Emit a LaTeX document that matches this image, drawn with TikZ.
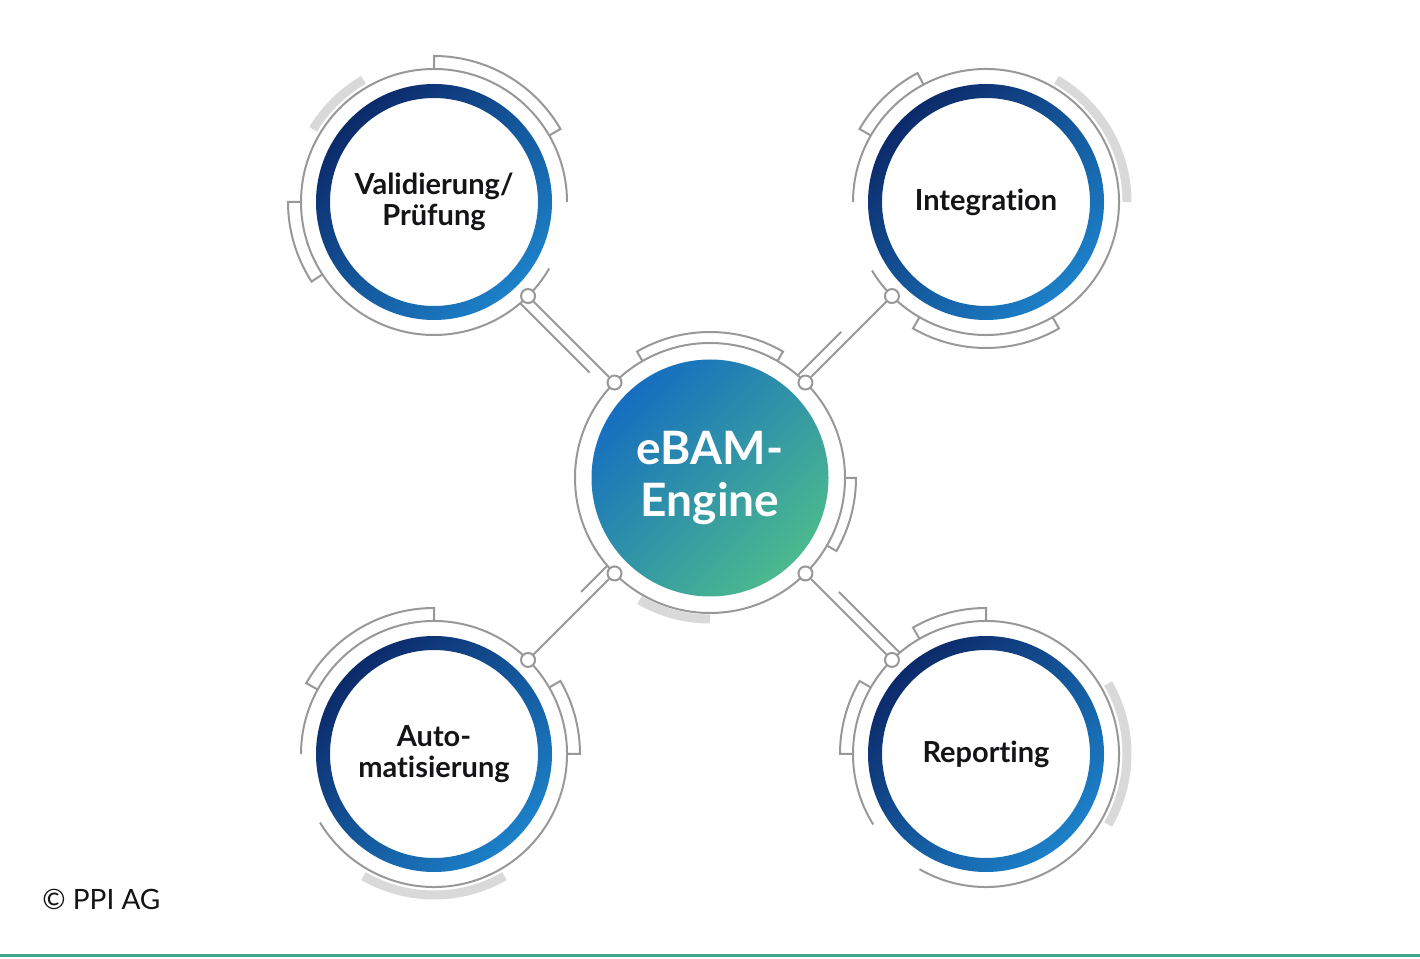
\documentclass[tikz,border=0pt]{standalone}
\usepackage{fontspec}
\setmainfont{Lato}[Ligatures={NoCommon}]
\usetikzlibrary{positioning,calc}

\definecolor{navy}{RGB}{12,42,106}
\definecolor{skyblue}{RGB}{28,128,200}
\definecolor{engblue}{RGB}{22,110,192}
\definecolor{enggreen}{RGB}{76,186,142}
\definecolor{wire}{RGB}{152,152,152}
\definecolor{shadow}{RGB}{217,217,217}
\definecolor{labelink}{RGB}{20,20,22}
\definecolor{footline}{RGB}{62,166,138}

\begin{document}
\begin{tikzpicture}[x=0.5pt, y=0.5pt, node distance=138pt and 138pt,
  topic/.style={circle, minimum size=104pt, inner sep=0pt, align=center, on grid, text=labelink, font=\bfseries\fontsize{14.5}{15.5}\selectfont},
  engine/.style={circle, minimum size=118.5pt, inner sep=0pt, align=center, top color=engblue, bottom color=enggreen, shading angle=45, text=white, font=\bfseries\fontsize{23}{26}\selectfont},
  joint/.style={circle, draw=wire, line width=1pt, fill=white, minimum size=7pt, inner sep=0pt},
  ringline/.style={draw=wire, line width=1pt},
  glow/.style={draw=shadow, line width=4.5pt}]

  \useasboundingbox (0,0) rectangle (1420,959);

  \node[engine] (eng) at (710,481) {eBAM-\\Engine};
  \node[topic, above left=of eng] (val) {Validierung/\\Prüfung};
  \node[topic, above right=of eng] (int) {Integration};
  \node[topic, below left=of eng] (auto) {Auto-\\matisierung};
  \node[topic, below right=of eng] (rep) {Reporting};

  % blue rings
  \foreach \n in {val,int,auto,rep}
    \shade[top color=navy, bottom color=skyblue, shading angle=45, even odd rule] (\n.center) circle[radius=118] circle[radius=104];

  % thin outer rings
  \draw[ringline] (eng.center) circle[radius=135];
  \foreach \n/\a/\b in {val/0/330, int/211/540, auto/211/540, rep/240/572}
    \draw[ringline] ([shift={(\a:133)}]\n.center) arc[start angle=\a, end angle=\b, radius=133];

  % brackets
  \foreach \n/\r/\R/\a/\b in {val/133/146/30/90, val/133/146/180/213, int/133/146/118/150, int/133/146/240/300,
      auto/133/146/90/151, auto/133/146/0/30, rep/133/146/90/120, rep/133/146/150/180,
      eng/135/146/60/120, eng/135/146/-30/0}
    \draw[ringline] ([shift={(\a:\r)}]\n.center) -- ([shift={(\a:\R)}]\n.center)
      arc[start angle=\a, end angle=\b, radius=\R] -- ([shift={(\b:\r)}]\n.center);

  % light arcs
  \foreach \n/\a/\b in {val/120/149, int/0/60, auto/240/300, rep/-30/30, eng/240/270}
    \draw[glow] ([shift={(\a:141)}]\n.center) arc[start angle=\a, end angle=\b, radius=141];

  % joints
  \node[joint] (jc1) at ([shift={(135:135)}]eng.center) {};
  \node[joint] (jc2) at ([shift={(45:135)}]eng.center) {};
  \node[joint] (jc3) at ([shift={(225:135)}]eng.center) {};
  \node[joint] (jc4) at ([shift={(-45:135)}]eng.center) {};
  \node[joint] (jval) at ([shift={(-45:133)}]val.center) {};
  \node[joint] (jint) at ([shift={(225:133)}]int.center) {};
  \node[joint] (jauto) at ([shift={(45:133)}]auto.center) {};
  \node[joint] (jrep) at ([shift={(135:133)}]rep.center) {};

  \draw[ringline] (jval) -- (jc1);
  \draw[ringline] (jc2) -- (jint);
  \draw[ringline] (jc3) -- (jauto);
  \draw[ringline] (jc4) -- (jrep);
  \draw[ringline] ($(jval)+(-7.5,-7.5)$) -- ($(jval)!0.8!(jc1)+(-7.5,-7.5)$);
  \draw[ringline] ($(jc2)+(-7.5,7.5)$) -- ($(jc2)!0.5!(jint)+(-7.5,7.5)$);
  \draw[ringline] ($(jc3)+(-7.5,7.5)$) -- ($(jc3)!0.3!(jauto)+(-7.5,7.5)$);
  \draw[ringline] ($(jc4)!0.3!(jrep)+(7.5,7.5)$) -- ($(jrep)+(7.5,7.5)$);

  \node[anchor=base west, inner sep=0pt, text=labelink, font=\fontsize{14}{16}\selectfont] (copy) at (42,49) {© PPI AG};
  \draw[footline, line width=1.5pt] (0,3) -- (1420,3);
\end{tikzpicture}
\end{document}
